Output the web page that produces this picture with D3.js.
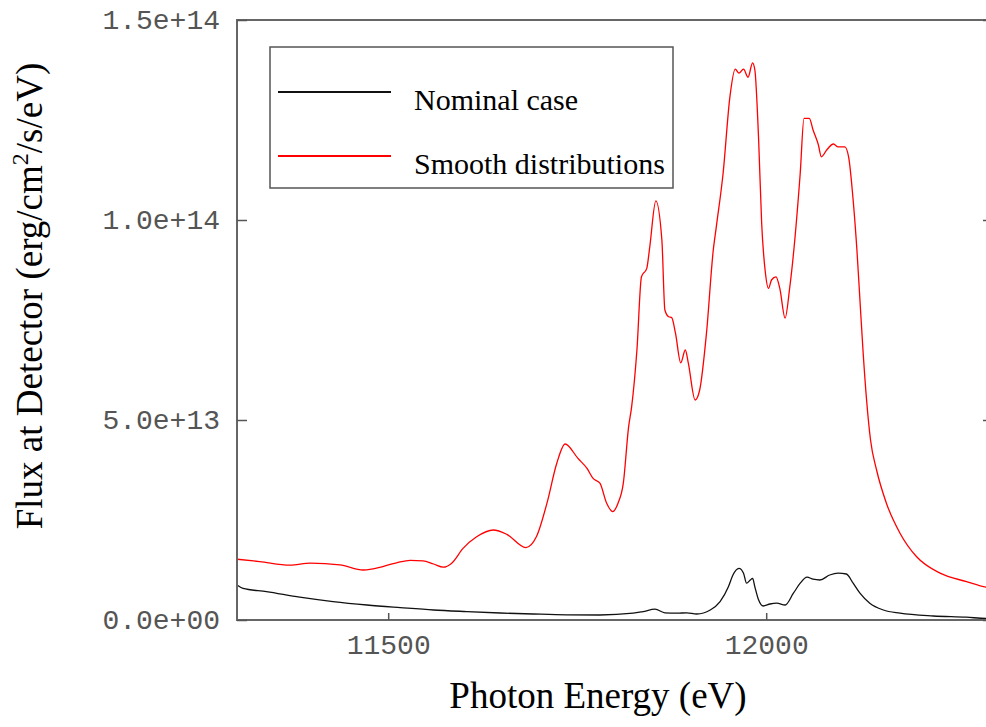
<!DOCTYPE html>
<html>
<head>
<meta charset="utf-8">
<script src="https://cdn.jsdelivr.net/npm/d3@7"></script>
<style>
  body { margin: 0; background: #fff; }
  svg { display: block; }
</style>
</head>
<body>
<svg id="chart" width="986" height="727"></svg>
<script>
// photon energy (eV) and flux (units of 1e13 erg/cm2/s/eV)
const energySmooth = [11300, 11330, 11370, 11397, 11436, 11467, 11480, 11511, 11529, 11546, 11560, 11573, 11584,
  11599, 11617, 11639, 11657, 11682, 11696, 11710, 11723, 11734, 11751, 11763, 11771, 11780, 11789, 11797, 11804,
  11811, 11818, 11822, 11829, 11835, 11842, 11846, 11854, 11862, 11866, 11871, 11875, 11880, 11887, 11893, 11897,
  11906, 11912, 11921, 11930, 11934, 11943, 11952, 11959, 11964, 11970, 11976, 11982, 11985, 11990, 11994, 11999,
  12003, 12007, 12013, 12018, 12025, 12031, 12045, 12050, 12057, 12062, 12069, 12073, 12080, 12089, 12095, 12104,
  12109, 12115, 12120, 12124, 12128, 12133, 12138, 12146, 12159, 12177, 12199, 12230, 12265, 12291, 12300];
const fluxSmooth = [1.52, 1.46, 1.37, 1.42, 1.38, 1.25, 1.28, 1.43, 1.49, 1.48, 1.40, 1.32, 1.42,
  1.79, 2.08, 2.25, 2.14, 1.81, 2.08, 2.92, 3.92, 4.40, 4.04, 3.79, 3.54, 3.42, 2.92, 2.71, 2.92,
  3.42, 4.83, 5.33, 6.75, 8.58, 8.79, 9.33, 10.48, 9.50, 7.75, 7.58, 7.56, 7.17, 6.43, 6.75, 6.42,
  5.50, 5.75, 7.17, 9.25, 9.83, 11.17, 13.08, 13.77, 13.67, 13.77, 13.57, 13.93, 13.75, 12.00, 9.92, 8.67,
  8.29, 8.50, 8.58, 8.29, 7.55, 8.29, 11.17, 12.54, 12.54, 12.25, 11.88, 11.58, 11.75, 11.90, 11.83, 11.83,
  11.58, 10.50, 9.25, 8.00, 6.75, 5.45, 4.50, 3.75, 2.92, 2.17, 1.58, 1.17, 0.96, 0.82, 0.80];

const energyNominal = [11300, 11308, 11339, 11383, 11427, 11472, 11516, 11560, 11604, 11648, 11692, 11736, 11780,
  11824, 11837, 11853, 11866, 11882, 11895, 11908, 11926, 11939, 11950, 11956, 11964, 11970, 11974, 11979, 11982,
  11985, 11990, 11996, 12005, 12014, 12025, 12036, 12045, 12054, 12062, 12071, 12084, 12095, 12106, 12115, 12124,
  12137, 12155, 12177, 12221, 12265, 12291, 12300];
const fluxNominal = [0.875, 0.79, 0.71, 0.57, 0.46, 0.375, 0.31, 0.25, 0.21, 0.175, 0.15, 0.13, 0.125,
  0.17, 0.21, 0.27, 0.18, 0.17, 0.18, 0.15, 0.25, 0.46, 0.83, 1.125, 1.29, 1.17, 0.92, 1.00, 1.04,
  0.83, 0.50, 0.35, 0.40, 0.42, 0.375, 0.67, 0.92, 1.07, 1.02, 1.00, 1.125, 1.17, 1.15, 0.92, 0.67,
  0.42, 0.25, 0.17, 0.10, 0.07, 0.04, 0.04];

const seriesNames = ['Nominal case', 'Smooth distributions'];
const seriesColors = ['#111', '#ff0000'];
const xTicks = [11500, 12000];
const yTicks = [0, 5, 10, 15];
const yTickLabels = ['0.0e+00', '5.0e+13', '1.0e+14', '1.5e+14'];

const svg = d3.select('#chart');
const box = { left: 237, right: 993, top: 20, bottom: 620 };

const x = d3.scaleLinear().domain([11300, 12300]).range([box.left, box.right]);
const y = d3.scaleLinear().domain([0, 15]).range([box.bottom, box.top]);

svg.append('defs').append('clipPath').attr('id', 'plotclip')
  .append('rect').attr('x', box.left).attr('y', box.top)
  .attr('width', box.right - box.left).attr('height', box.bottom - box.top);

// curves
const line = d3.line().x(d => x(d[0])).y(d => y(d[1])).curve(d3.curveMonotoneX);
const plot = svg.append('g').attr('clip-path', 'url(#plotclip)');
plot.append('path')
  .datum(d3.zip(energyNominal, fluxNominal))
  .attr('d', line).attr('fill', 'none')
  .attr('stroke', seriesColors[0]).attr('stroke-width', 1.3);
plot.append('path')
  .datum(d3.zip(energySmooth, fluxSmooth))
  .attr('d', line).attr('fill', 'none')
  .attr('stroke', seriesColors[1]).attr('stroke-width', 1.3);

// frame
svg.append('rect')
  .attr('x', box.left).attr('y', box.top)
  .attr('width', box.right - box.left).attr('height', box.bottom - box.top)
  .attr('fill', 'none').attr('stroke', '#666').attr('stroke-width', 2);

// y axis, ticks pointing inward
const yAxis = svg.append('g').attr('transform', `translate(${box.left},0)`)
  .call(d3.axisLeft(y).tickValues(yTicks).tickSize(-10).tickPadding(17)
    .tickFormat((d, i) => yTickLabels[i]));
yAxis.select('.domain').remove();
yAxis.selectAll('line').attr('stroke', '#555').attr('stroke-width', 1.5);
yAxis.selectAll('text')
  .attr('font-family', '"Liberation Mono", "Courier New", monospace')
  .attr('font-size', 28).attr('fill', '#555');

const yAxisR = svg.append('g').attr('transform', `translate(${box.right},0)`)
  .call(d3.axisRight(y).tickValues(yTicks).tickSize(-10).tickFormat(''));
yAxisR.select('.domain').remove();
yAxisR.selectAll('line').attr('stroke', '#555').attr('stroke-width', 1.5);

// x axis
const xAxis = svg.append('g').attr('transform', `translate(0,${box.bottom})`)
  .call(d3.axisBottom(x).tickValues(xTicks).tickSize(-7).tickPadding(14).tickFormat(d3.format('d')));
xAxis.select('.domain').remove();
xAxis.selectAll('line').attr('stroke', '#555').attr('stroke-width', 1.5);
xAxis.selectAll('text')
  .attr('font-family', '"Liberation Mono", "Courier New", monospace')
  .attr('font-size', 28).attr('fill', '#555');

// axis titles
svg.append('text')
  .attr('x', 598).attr('y', 708)
  .attr('text-anchor', 'middle')
  .attr('font-family', '"Liberation Serif", "Times New Roman", serif')
  .attr('font-size', 37).attr('fill', '#000')
  .text('Photon Energy (eV)');

const yTitle = svg.append('text')
  .attr('transform', 'translate(42,296) rotate(-90)')
  .attr('text-anchor', 'middle')
  .attr('font-family', '"Liberation Serif", "Times New Roman", serif')
  .attr('font-size', 37).attr('fill', '#000');
yTitle.append('tspan').text('Flux at Detector (erg/cm');
yTitle.append('tspan').attr('font-size', 24).attr('dy', -14).text('2');
yTitle.append('tspan').attr('dy', 14).text('/s/eV)');

// legend
const legend = svg.append('g');
legend.append('rect')
  .attr('x', 270).attr('y', 47).attr('width', 403).attr('height', 141)
  .attr('fill', '#fff').attr('stroke', '#555').attr('stroke-width', 1.5);
const items = legend.selectAll('g.item').data(seriesNames).enter()
  .append('g').attr('class', 'item')
  .attr('transform', (d, i) => `translate(0,${92 + i * 64})`);
items.append('line')
  .attr('x1', 278).attr('x2', 391).attr('y1', 0).attr('y2', 0)
  .attr('stroke', (d, i) => seriesColors[i]).attr('stroke-width', 2.2);
items.append('text')
  .attr('x', 414).attr('y', 18)
  .attr('font-family', '"Liberation Serif", "Times New Roman", serif')
  .attr('font-size', 30).attr('fill', '#000')
  .text(d => d);
</script>
</body>
</html>
